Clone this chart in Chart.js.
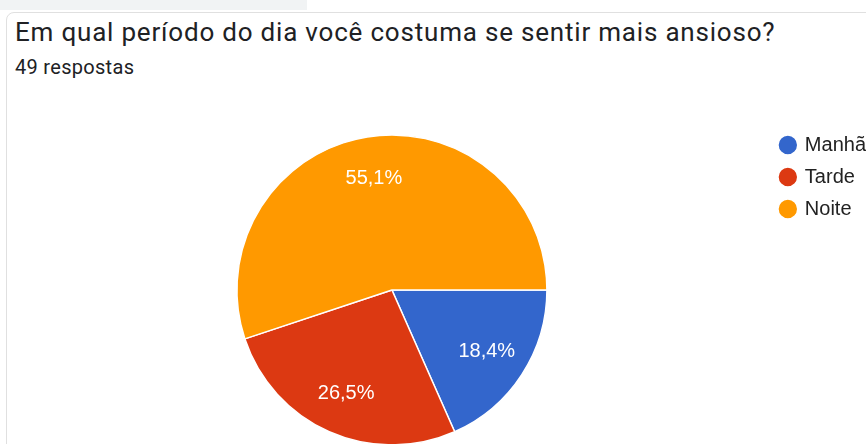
<!DOCTYPE html>
<html>
<head>
<meta charset="utf-8">
<script src="https://cdn.jsdelivr.net/npm/chart.js@4/dist/chart.umd.min.js"></script>
<style>
  html, body { margin: 0; padding: 0; background: #fff; }
  body { width: 866px; height: 444px; overflow: hidden; position: relative; }
  .strip { position: absolute; left: 0; top: 0; width: 307px; height: 10px; background: #f1f3f4; }
  .card { position: absolute; left: 6px; top: 12px; width: 900px; height: 500px;
          border: 1px solid #e0e0e0; border-radius: 8px; background: #fff; }
  .title { position: absolute; left: 15px; top: 17px; font: 26px Roboto, sans-serif; letter-spacing: 0.8px;
           color: #202124; white-space: nowrap; }
  .sub { position: absolute; left: 15px; top: 55px; font: 20px Roboto, sans-serif; letter-spacing: 0.3px; color: #202124; }
  #pie { position: absolute; left: 0; top: 100px; }
</style>
</head>
<body>
<div class="strip"></div>
<div class="card"></div>
<div class="title">Em qual período do dia você costuma se sentir mais ansioso?</div>
<div class="sub">49 respostas</div>
<canvas id="pie" width="876" height="357"></canvas>
<script>
(function () {
    'use strict';

    var labels = ['Manhã', 'Tarde', 'Noite'];
    var counts = [9, 13, 27];
    var colors = ['#3366cc', '#dc3912', '#ff9900'];

    // percentage labels inside the slices, like google forms
    var sliceLabels = {
        id: 'sliceLabels',
        afterDatasetsDraw: function (chart) {
            var ctx = chart.ctx;
            var data = chart.data.datasets[0].data;
            var total = data.reduce(function (a, b) { return a + b; }, 0);
            chart.getDatasetMeta(0).data.forEach(function (arc, i) {
                var mid = (arc.startAngle + arc.endAngle) / 2;
                var r = arc.outerRadius * 0.73;
                var x = arc.x + Math.cos(mid) * r;
                var y = arc.y + Math.sin(mid) * r;
                var pct = (data[i] / total * 100).toFixed(1).replace('.', ',') + '%';
                ctx.save();
                ctx.fillStyle = '#ffffff';
                ctx.font = '20px "Liberation Sans", Arial, sans-serif';
                ctx.textAlign = 'center';
                ctx.textBaseline = 'middle';
                ctx.fillText(pct, x, y);
                ctx.restore();
            });
        }
    };

    new Chart(document.getElementById('pie'), {
        type: 'pie',
        data: {
            labels: labels,
            datasets: [{
                data: counts,
                backgroundColor: colors,
                borderColor: '#ffffff',
                borderWidth: 1.5
            }]
        },
        options: {
            responsive: false,
            animation: false,
            rotation: 90,
            radius: 155,
            layout: { padding: { top: 23, left: 15, bottom: 0, right: 0 } },
            plugins: {
                legend: {
                    position: 'right',
                    align: 'start',
                    labels: {
                        usePointStyle: true,
                        pointStyle: 'circle',
                        boxWidth: 14,
                        boxHeight: 14,
                        padding: 12,
                        color: '#222222',
                        font: { family: '"Liberation Sans", Arial, sans-serif', size: 20 }
                    }
                },
                tooltip: { enabled: false }
            }
        },
        plugins: [sliceLabels]
    });
})();
</script>
</body>
</html>
